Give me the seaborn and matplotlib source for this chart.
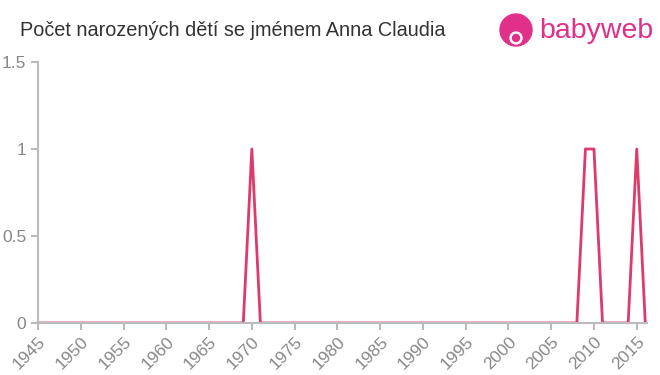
import matplotlib
matplotlib.use("Agg")
import matplotlib.pyplot as plt
import seaborn as sns
import pandas as pd
from matplotlib.patches import Circle

years = list(range(1945, 2017))
peak_years = [1970, 2009, 2010, 2015]
counts = [1 if y in peak_years else 0 for y in years]
xticks = list(range(1945, 2016, 5))
yticks = [0, 0.5, 1, 1.5]
ytick_labels = ["0", "0.5", "1", "1.5"]
title = "Počet narozených dětí se jménem Anna Claudia"

df = pd.DataFrame({"rok": years, "pocet": counts})

sns.set_style("white")
plt.rcParams['font.family'] = ['Liberation Sans', 'DejaVu Sans']

fig = plt.figure(figsize=(6.6, 3.75), dpi=100)
ax = fig.add_axes([38/660, 52/375, (647-38)/660, (323-62)/375])
sns.lineplot(data=df, x="rok", y="pocet", ax=ax, color="#e0396b", linewidth=2)
ax.set_xlim(1945, 2016.2)
ax.set_ylim(0, 1.5)
ax.set_xticks(xticks)
ax.set_xticklabels([str(x) for x in xticks], rotation=45, ha="right", rotation_mode="anchor")
ax.set_yticks(yticks)
ax.set_yticklabels(ytick_labels)
ax.set_xlabel("")
ax.set_ylabel("")
for s in ["top", "right"]:
    ax.spines[s].set_visible(False)
for s in ["left", "bottom"]:
    ax.spines[s].set_color("#bbbbbb")
    ax.spines[s].set_linewidth(1.5)
ax.tick_params(axis="both", colors="#bbbbbb", labelcolor="#888888", labelsize=12.5,
               length=5, width=1.5, direction="out", bottom=True, left=True)
ax.tick_params(axis="x", pad=3)

fig.text(20/660, 1 - 31/375, title, fontsize=14.3, color="#333333", va="center", ha="left")

# logo
lax = fig.add_axes([495/660, 1 - 55/375, 165/660, 50/375])
lax.set_xlim(0, 165)
lax.set_ylim(0, 50)
lax.axis("off")
lax.add_patch(Circle((21, 25), 16, color="#e0308a"))
lax.add_patch(Circle((21, 17), 6, color="white"))
lax.add_patch(Circle((21, 17), 3.5, color="#e0308a"))
lax.text(44, 24, "babyweb", fontsize=20.5, color="#e0308a", va="center", ha="left")

fig.savefig("out.png", dpi=100)
